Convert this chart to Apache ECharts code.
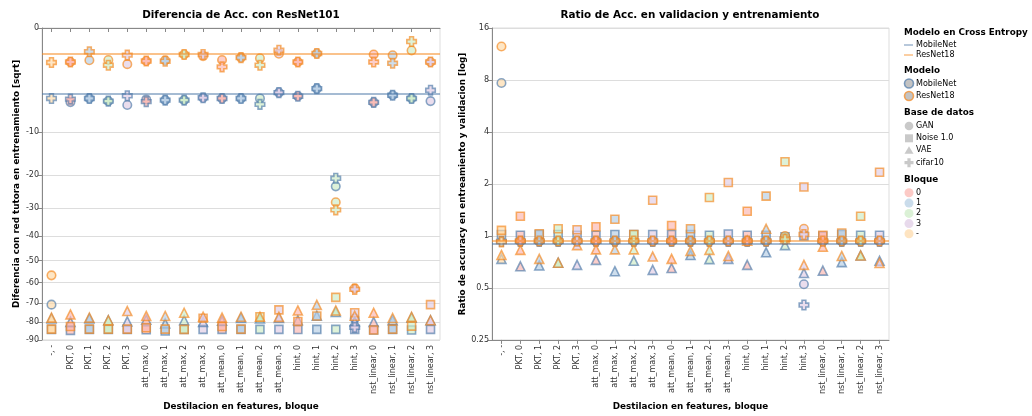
<!DOCTYPE html>
<html><head><meta charset="utf-8">
<script src="https://cdn.jsdelivr.net/npm/echarts@6/dist/echarts.min.js"></script>
<style>html,body{margin:0;padding:0;background:#fff}#c{width:1032px;height:416px}</style>
</head><body><div id="c"></div>
<script>
const categories = ['-, -','PKT, 0','PKT, 1','PKT, 2','PKT, 3','att_max, 0','att_max, 1','att_max, 2','att_max, 3','att_mean, 0','att_mean, 1','att_mean, 2','att_mean, 3','hint, 0','hint, 1','hint, 2','hint, 3','nst_linear, 0','nst_linear, 1','nst_linear, 2','nst_linear, 3'];
const modelos = ['MobileNet','ResNet18'];
const bases = ['GAN','Noise 1.0','VAE','cifar10'];
const bloques = ['0','1','2','3','-'];

const diffTicks = [0,-10,-20,-30,-40,-50,-60,-70,-80,-90];
const ratioTicks = [0.25,0.5,1,2,4,8,16];

// Cross entropy reference lines [MobileNet, ResNet18]
const ceDiff = [-4.01, -0.61];
const ceRatio = [0.897, 0.937];

// Diferencia de Acc. con ResNet101
const diffResGAN   = [-56.6,-1.07,-0.96,-0.95,-1.21,-1.01,-0.96,-0.65,-0.73,-0.95,-0.81,-0.85,-0.61,-1.07,-0.60,-28.1,-62.7,-0.65,-0.69,-0.47,-1.07];
const diffResNoise = [-83.9,-82.4,-83.9,-83.9,-83.9,-83.1,-83.9,-84.0,-77.9,-82.4,-83.9,-77.1,-73.5,-79.7,-76.7,-67.1,-75.0,-84.4,-83.9,-82.2,-70.8];
const diffResVAE   = [-77.6,-75.9,-77.6,-79.0,-74.1,-76.7,-76.7,-75.0,-77.1,-77.6,-77.1,-77.1,-77.2,-73.8,-70.9,-73.8,-76.6,-75.0,-77.8,-77.2,-79.0];
const diffResCifar = [-1.10,-1.07,-0.52,-1.28,-0.68,-1.01,-1.02,-0.65,-0.65,-1.40,-0.81,-1.28,-0.46,-1.07,-0.60,-30.6,-63.2,-1.07,-1.15,-0.17,-1.07];
const diffMobGAN   = [-70.8,-5.08,-4.59,-4.94,-5.49,-4.72,-4.81,-4.81,-4.50,-4.59,-4.59,-4.59,-3.86,-4.30,-3.40,-23.2,-78.1,-5.12,-4.18,-4.59,-4.94];
const diffMobNoise = [-84.0,-84.6,-84.0,-84.0,-84.0,-84.2,-84.9,-84.0,-84.0,-84.0,-84.0,-84.0,-84.0,-84.1,-84.0,-84.0,-84.0,-84.3,-84.0,-84.4,-84.0];
const diffMobVAE   = [-78.1,-79.9,-78.1,-79.0,-79.6,-78.7,-80.8,-79.0,-79.9,-79.2,-77.8,-78.1,-77.8,-79.0,-76.6,-74.6,-79.7,-79.9,-79.0,-77.6,-79.0];
const diffMobCifar = [-4.59,-4.68,-4.59,-4.94,-4.25,-5.02,-4.81,-4.81,-4.50,-4.59,-4.59,-5.39,-3.86,-4.30,-3.40,-20.9,-82.9,-5.12,-4.18,-4.59,-3.59];

// Ratio de Acc. en validacion y entrenamiento
const ratioResGAN   = [12.5,0.935,0.935,0.935,0.935,0.935,0.935,0.938,0.935,0.935,0.935,0.935,0.935,0.935,0.935,1.0,1.10,0.935,0.935,0.935,0.935];
const ratioResNoise = [1.077,1.30,1.03,1.10,1.086,1.13,1.25,1.02,1.61,1.15,1.10,1.67,2.04,1.39,1.70,2.69,1.92,1.01,1.04,1.30,2.34];
const ratioResVAE   = [0.776,0.83,0.737,0.70,0.885,0.836,0.836,0.836,0.76,0.737,0.82,0.83,0.766,0.94,1.10,0.96,0.68,0.866,0.766,0.77,0.697];
const ratioResCifar = [0.924,0.935,0.935,0.935,0.935,0.935,0.935,0.935,0.935,0.935,0.935,0.935,0.935,0.935,0.935,0.957,1.02,0.935,0.935,0.935,0.935];
const ratioMobGAN   = [7.68,0.93,0.93,0.93,0.93,0.93,0.93,0.93,0.93,0.93,0.93,0.93,0.93,0.93,0.93,0.99,0.525,0.93,0.93,0.93,0.93];
const ratioMobNoise = [1.02,1.01,1.02,1.02,1.01,1.01,1.02,1.02,1.02,1.02,1.02,1.01,1.026,1.01,1.01,0.99,1.0,1.0,1.02,1.01,1.01];
const ratioMobVAE   = [0.737,0.667,0.675,0.70,0.68,0.727,0.625,0.718,0.636,0.652,0.776,0.734,0.737,0.68,0.804,0.885,0.61,0.63,0.705,0.77,0.718];
const ratioMobCifar = [0.93,0.93,0.93,0.93,0.93,0.93,0.93,0.93,0.93,0.93,0.93,0.93,0.93,0.93,0.93,0.96,0.398,0.93,0.93,0.93,0.93];

const FONT = '"DejaVu Sans", sans-serif';
const strokeColor = {MobileNet:'#4c78a8', ResNet18:'#f58518'};
const fillColor = {'0':'#fbb4ae','1':'#b3cde3','2':'#ccebc5','3':'#decbe4','-':'#fed9a6'};
const CROSS = 'path://M-5,-2L-2,-2L-2,-5L2,-5L2,-2L5,-2L5,2L2,2L2,5L-2,5L-2,2L-5,2Z';
const shapes = {'GAN':'circle','Noise 1.0':'rect','VAE':'triangle','cifar10':CROSS};
const sizes = {'GAN':8.5,'Noise 1.0':8,'VAE':9,'cifar10':9.5};
const bloqueOf = c => c.split(', ')[1];
const sqrtT = v => Math.sqrt(-v);
const ident = v => v;

function mk(modelo, base, values, gi, tf) {
  return {
    type:'scatter', name: modelo + ' ' + base, xAxisIndex: gi, yAxisIndex: gi,
    symbol: shapes[base], symbolSize: sizes[base], silent: true, animation: false,
    data: values.map((v,i) => ({value:[i, tf(v)], itemStyle:{color: fillColor[bloqueOf(categories[i])]}})),
    itemStyle: {borderColor: strokeColor[modelo], borderWidth: 1.6, opacity: 0.65}
  };
}
function rules(gi, vals, tf) {
  return {
    type:'scatter', xAxisIndex: gi, yAxisIndex: gi, data: [], silent:true, animation:false, z: 1,
    markLine: {silent:true, animation:false, symbol:['none','none'], label:{show:false},
      data: modelos.map((m,k) => ({yAxis: tf(vals[k]), lineStyle:{color: strokeColor[m], width: 2, opacity: 0.5, type:'solid'}}))}
  };
}

const diffSets = {MobileNet:[diffMobGAN,diffMobNoise,diffMobVAE,diffMobCifar], ResNet18:[diffResGAN,diffResNoise,diffResVAE,diffResCifar]};
const ratioSets = {MobileNet:[ratioMobGAN,ratioMobNoise,ratioMobVAE,ratioMobCifar], ResNet18:[ratioResGAN,ratioResNoise,ratioResVAE,ratioResCifar]};

const series = [rules(0, ceDiff, sqrtT), rules(1, ceRatio, ident)];
modelos.forEach(m => bases.forEach((b,k) => {
  series.push(mk(m, b, diffSets[m][k], 0, sqrtT));
  series.push(mk(m, b, ratioSets[m][k], 1, ident));
}));

function xAxis(gi) {
  return {
    type:'category', gridIndex: gi, data: categories, boundaryGap: true,
    axisLine:{show:true, lineStyle:{color:'#888', width:1}},
    axisTick:{show:true, alignWithLabel:true, length:4, lineStyle:{color:'#888'}},
    axisLabel:{interval:0, rotate:90, fontSize:8, color:'#333', fontFamily:FONT, margin:5},
    splitLine:{show:false},
    name:'Destilacion en features, bloque', nameLocation:'middle', nameGap:56,
    nameTextStyle:{fontWeight:'bold', fontSize:8.8, color:'#000', fontFamily:FONT}
  };
}
const sqTicks = diffTicks.map(v => Math.sqrt(-v));

const option = {
  animation: false,
  grid: [
    {left:42, top:28, width:398, height:319, show:true, borderColor:'#ddd', borderWidth:1, backgroundColor:'transparent'},
    {left:492, top:28, width:397, height:319, show:true, borderColor:'#ddd', borderWidth:1, backgroundColor:'transparent'}
  ],
  xAxis: [xAxis(0), xAxis(1)],
  yAxis: [
    {type:'value', gridIndex:0, min:0, max:Math.sqrt(90), inverse:true,
     axisLine:{show:true, lineStyle:{color:'#888'}},
     axisTick:{show:true, length:4, customValues: sqTicks, lineStyle:{color:'#888'}},
     axisLabel:{customValues: sqTicks, fontSize:8, color:'#333', fontFamily:FONT, margin:3,
       formatter: t => { const r = Math.round(t*t); return r === 0 ? '0' : String(-r); }},
     splitLine:{show:true, lineStyle:{color:'#ddd', width:1}},
     name:'Diferencia con red tutora en entrenamiento [sqrt]', nameLocation:'middle', nameGap:21,
     nameTextStyle:{fontWeight:'bold', fontSize:8.8, color:'#000', fontFamily:FONT}},
    {type:'log', gridIndex:1, logBase:2, min:ratioTicks[0], max:ratioTicks[ratioTicks.length-1], splitNumber:6,
     axisLine:{show:true, lineStyle:{color:'#888'}},
     axisTick:{show:true, length:4, lineStyle:{color:'#888'}},
     axisLabel:{fontSize:8, color:'#333', fontFamily:FONT, margin:3},
     splitLine:{show:true, lineStyle:{color:'#ddd', width:1}},
     minorTick:{show:false}, minorSplitLine:{show:false},
     name:'Ratio de accuracy en entreamiento y validacion [log]', nameLocation:'middle', nameGap:24,
     nameTextStyle:{fontWeight:'bold', fontSize:8.8, color:'#000', fontFamily:FONT}}
  ],
  series: series,
  graphic: []
};

// titles
function txt(x, y, text, bold, size, align) {
  return {type:'text', x:x, y:y, silent:true, z:100,
    style:{text:text, fill:'#000', fontFamily:FONT, fontSize:size, fontWeight: bold ? 'bold':'normal',
      align: align || 'left', verticalAlign:'middle'}};
}
const G = option.graphic;
G.push(txt(241, 15, 'Diferencia de Acc. con ResNet101', true, 10.4, 'center'));
G.push(txt(690, 15, 'Ratio de Acc. en validacion y entrenamiento', true, 10.4, 'center'));

// legend
const LX = 904, SX = 909, TX = 916;
G.push(txt(LX, 33, 'Modelo en Cross Entropy', true, 8.8));
[45, 55].forEach((y,k) => {
  G.push({type:'line', silent:true, shape:{x1:SX-5, y1:y, x2:SX+4, y2:y}, style:{stroke:strokeColor[modelos[k]], lineWidth:1.6, opacity:0.5}});
  G.push(txt(TX, y, modelos[k], false, 8));
});
G.push(txt(LX, 71, 'Modelo', true, 8.8));
[83.5, 96].forEach((y,k) => {
  G.push({type:'circle', silent:true, shape:{cx:SX, cy:y, r:4.5}, style:{fill:'#aaa', stroke:strokeColor[modelos[k]], lineWidth:1.6, opacity:0.7}});
  G.push(txt(TX, y, modelos[k], false, 8));
});
G.push(txt(LX, 113, 'Base de datos', true, 8.8));
const legGray = {fill:'#bbb', opacity:0.8};
[126, 138.3, 150.3, 162.7].forEach((y,k) => {
  let el;
  if (k === 0) el = {type:'circle', shape:{cx:SX, cy:y, r:4.3}};
  else if (k === 1) el = {type:'rect', shape:{x:SX-4, y:y-4, width:8, height:8}};
  else if (k === 2) el = {type:'polygon', shape:{points:[[SX,y-4],[SX+4.5,y+3.5],[SX-4.5,y+3.5]]}};
  else el = {type:'polygon', shape:{points:[[SX-4.5,y-1.6],[SX-1.6,y-1.6],[SX-1.6,y-4.5],[SX+1.6,y-4.5],[SX+1.6,y-1.6],[SX+4.5,y-1.6],[SX+4.5,y+1.6],[SX+1.6,y+1.6],[SX+1.6,y+4.5],[SX-1.6,y+4.5],[SX-1.6,y+1.6],[SX-4.5,y+1.6]]}};
  el.silent = true; el.style = Object.assign({}, legGray);
  G.push(el);
  G.push(txt(TX, y, bases[k], false, 8));
});
G.push(txt(LX, 180, 'Bloque', true, 8.8));
[192.7, 203.1, 213.4, 223.6, 233.8].forEach((y,k) => {
  G.push({type:'circle', silent:true, shape:{cx:SX, cy:y, r:4.5}, style:{fill:fillColor[bloques[k]], opacity:0.7}});
  G.push(txt(TX, y, bloques[k], false, 8));
});

const chart = echarts.init(document.getElementById('c'), null, {renderer:'canvas'});
chart.setOption(option);
</script></body></html>
